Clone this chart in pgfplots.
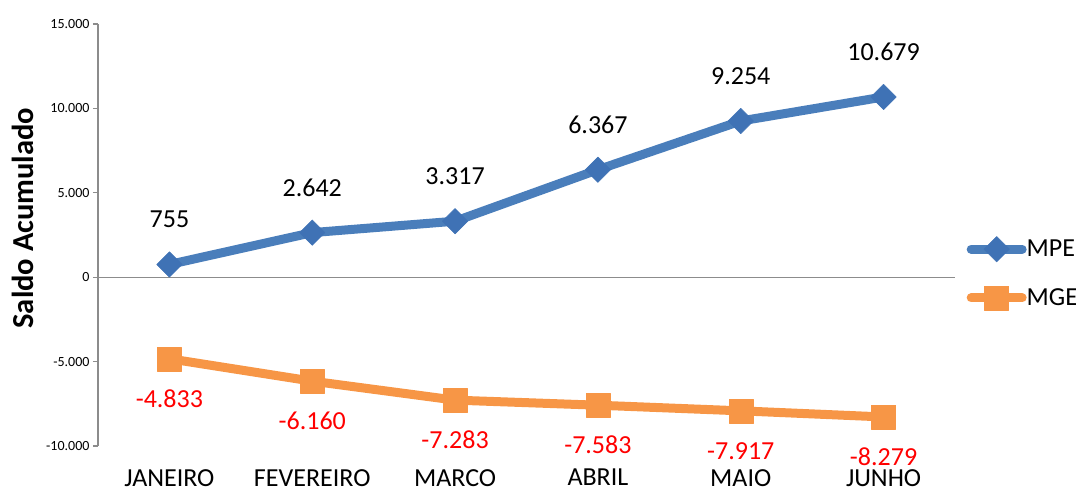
\documentclass[border=0pt]{standalone}
\usepackage{fontspec}
\setmainfont{Carlito}
\usepackage{pgfplots}
\pgfplotsset{compat=1.18}
\definecolor{mpe}{HTML}{4A7EBB}
\definecolor{mpemark}{HTML}{3F72B5}
\definecolor{mge}{HTML}{F79646}
\definecolor{axgray}{HTML}{8C8C8C}
\begin{document}
\begin{tikzpicture}
\useasboundingbox (-98pt,-44pt) rectangle (978pt,446pt);
\begin{axis}[
  at={(0pt,0pt)}, anchor=south west,
  scale only axis, width=857pt, height=422pt,
  xmin=-0.5, xmax=5.5, ymin=-10000, ymax=15000,
  axis lines*=left,
  x axis line style={draw=none},
  y axis line style={axgray, line width=1.2pt},
  xtick={0,1,2,3,4,5},
  xticklabels={JANEIRO,FEVEREIRO,MARCO,ABRIL,MAIO,JUNHO},
  x tick style={draw=none},
  x tick label style={font=\fontsize{26}{30}\selectfont, inner sep=0pt, yshift=-18pt},
  ytick={-10000,-5000,0,5000,10000,15000},
  scaled y ticks=false,
  y tick style={axgray, line width=1.2pt},
  tick align=outside, major tick length=5pt,
  y tick label style={font=\fontsize{14}{16}\selectfont},
  /pgf/number format/.cd, 1000 sep={.}, assume math mode=true, /pgfplots/.cd,
  extra y ticks={0}, extra y tick labels={},
  extra y tick style={grid=major, major grid style={axgray, line width=1.2pt}, tick style={draw=none}},
  ylabel={\bfseries Saldo Acumulado},
  ylabel style={font=\fontsize{30.5}{33}\selectfont, at={(axis description cs:-0.0875,0.54)}, anchor=center},
  legend style={at={(axis description cs:1.0134,0.497)}, anchor=north west, draw=none, fill=none,
    font=\fontsize{26}{30}\selectfont, inner sep=0pt, row sep=24pt,
    nodes={inner sep=0pt},
    /tikz/every odd column/.append style={column sep=0pt}},
  legend cell align=left,
  legend image code/.code={\draw[mark repeat=2,mark phase=2,#1] plot coordinates {(0pt,0pt) (25.5pt,0pt) (51pt,0pt)};},
  clip=false,
]
\addplot[color=mpe, line width=9pt, line cap=round, line join=round,
  mark=square*, mark size=9pt, mark options={rotate=45, fill=mpemark, draw=mpemark, line width=0.5pt},
  nodes near coords,
  every node near coord/.append style={font=\fontsize{26}{30}\selectfont, black, inner sep=0pt, anchor=center, yshift=45pt}]
coordinates {(0,755) (1,2642) (2,3317) (3,6367) (4,9254) (5,10679)};
\addlegendentry{MPE}
\addplot[color=mge, line width=9pt, line cap=round, line join=round,
  mark=square*, mark size=12pt, mark options={fill=mge, draw=mge, line width=0.5pt},
  nodes near coords,
  every node near coord/.append style={font=\fontsize{26}{30}\selectfont, red, inner sep=0pt, anchor=center, yshift=-40pt}]
coordinates {(0,-4833) (1,-6160) (2,-7283) (3,-7583) (4,-7917) (5,-8279)};
\addlegendentry{MGE}
\end{axis}
\end{tikzpicture}
\end{document}
